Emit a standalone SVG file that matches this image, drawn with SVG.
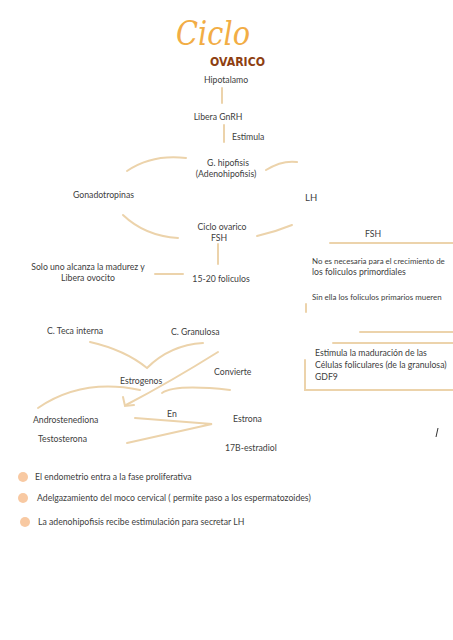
<svg xmlns="http://www.w3.org/2000/svg" width="453" height="640" viewBox="0 0 453 640">
<style>
text{font-family:Lato,"Liberation Sans",sans-serif;font-size:8.7px;fill:#404040}
.c{text-anchor:middle}
.s{font-size:7.9px}
.ln{fill:none;stroke:#ecd3ab;stroke-width:2;stroke-linecap:round}
.b{fill:#f8c9a2}
</style>
<rect width="453" height="640" fill="#ffffff"/>
<g id="title">
<text x="176" y="45" textLength="74" lengthAdjust="spacingAndGlyphs" style="font-family:'DejaVu Serif',serif;font-style:italic;font-size:34px;fill:#f2ad45">Ciclo</text>
<text x="210" y="66" textLength="55" lengthAdjust="spacingAndGlyphs" style="font-family:'DejaVu Sans',sans-serif;font-weight:bold;font-size:13px;fill:#8e3f12">OVARICO</text>
</g>
<g id="connectors">
<path class="ln" d="M222,88 V103"/>
<path class="ln" d="M224,125 V142"/>
<path class="ln" d="M127,171 Q152,154 186,158"/>
<path class="ln" d="M266,170 Q282,160 297,162"/>
<path class="ln" d="M123,215 Q145,236 178,238"/>
<path class="ln" d="M257,236 Q275,232 292,225"/>
<path class="ln" d="M218,244 V264"/>
<path class="ln" d="M155,274 H183"/>
<path class="ln" d="M330,243 H453"/>
<path class="ln" d="M306,304 V312"/>
<path class="ln" d="M360,332 H453"/>
<path class="ln" d="M333,343 H453"/>
<path class="ln" d="M305,360 V390 H453"/>
<path class="ln" d="M90,342 Q125,350 147,368 Q170,345 203,343"/>
<path class="ln" d="M218,352 Q170,382 126,405"/>
<path class="ln" d="M123,397 L125,406 L134,405"/>
<path class="ln" d="M162,393 Q175,384 230,390"/>
<path class="ln" d="M38,408 Q82,378 140,390"/>
<path class="ln" d="M135,418 L212,424 L127,443"/>
<path d="M436,437 L438,428" fill="none" stroke="#333" stroke-width="1"/>
</g>
<g id="hipotalamo"><text x="226" y="83" class="c">Hipotalamo</text></g>
<g id="gnrh"><text x="218" y="120" class="c">Libera GnRH</text></g>
<g id="estimula"><text x="232" y="140">Estimula</text></g>
<g id="hipofisis"><text x="228" y="166" class="c">G. hipofisis</text><text x="226" y="177" class="c">(Adenohipofisis)</text></g>
<g id="gonadotropinas"><text x="73" y="198">Gonadotropinas</text></g>
<g id="lh"><text x="305" y="201" style="font-size:9.5px">LH</text></g>
<g id="ciclo"><text x="222" y="230" class="c">Ciclo ovarico</text><text x="219" y="241" class="c">FSH</text></g>
<g id="foliculos"><text x="221" y="282" class="c">15-20 foliculos</text></g>
<g id="solo"><text x="88" y="270" class="c">Solo uno alcanza la madurez y</text><text x="88" y="281" class="c">Libera ovocito</text></g>
<g id="fsh-box">
<text x="365" y="237">FSH</text>
<text x="312" y="264" class="s">No es necesaria para el crecimiento de</text>
<text x="312" y="275">los foliculos primordiales</text>
<text x="312" y="300" class="s">Sin ella los foliculos primarios mueren</text>
</g>
<g id="estimula-box">
<text x="315" y="356">Estimula la maduración de las</text>
<text x="315" y="368">Células foliculares (de la granulosa)</text>
<text x="315" y="380">GDF9</text>
</g>
<g id="teca"><text x="47" y="334">C. Teca interna</text></g>
<g id="granulosa"><text x="171" y="335">C. Granulosa</text></g>
<g id="estrogenos"><text x="120" y="384">Estrogenos</text></g>
<g id="convierte"><text x="214" y="375">Convierte</text></g>
<g id="andro"><text x="33" y="423">Androstenediona</text></g>
<g id="testo"><text x="38" y="442">Testosterona</text></g>
<g id="en"><text x="167" y="417">En</text></g>
<g id="estrona"><text x="233" y="422">Estrona</text></g>
<g id="estradiol"><text x="225" y="451">17B-estradiol</text></g>
<g id="bullets">
<circle class="b" cx="23" cy="477" r="5"/>
<text x="35" y="480">El endometrio entra a la fase proliferativa</text>
<circle class="b" cx="23" cy="498" r="5"/>
<text x="37" y="501">Adelgazamiento del moco cervical ( permite paso a los espermatozoides)</text>
<circle class="b" cx="25" cy="522" r="5"/>
<text x="38" y="525">La adenohipofisis recibe estimulación para secretar LH</text>
</g>
</svg>
